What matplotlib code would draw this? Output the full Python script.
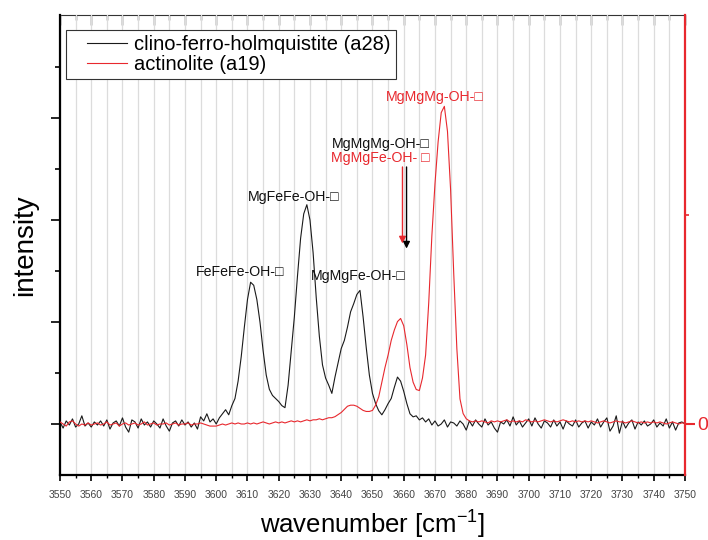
import matplotlib
matplotlib.use('Agg')
import matplotlib.pyplot as plt
import numpy as np
from matplotlib.ticker import MultipleLocator, FixedLocator
from matplotlib.legend_handler import HandlerLine2D

plt.rcParams['font.family'] = ['Liberation Sans', 'DejaVu Sans']

# wavenumber grid, 1 cm^-1 steps
wavenumber = np.arange(3550, 3751)

# clino-ferro-holmquistite (a28), left axis
holmquistite = [
    0.02, -0.04, 0.03, -0.01, 0.05, -0.03, 0.0, 0.08, -0.02, 0.01,
    -0.03, 0.02, -0.01, 0.03, -0.02, 0.04, -0.05, 0.01, 0.03, -0.02,
    0.06, -0.03, -0.08, 0.04, 0.02, -0.04, 0.05, -0.01, 0.02, -0.03,
    0.03, 0.0, -0.04, 0.05, -0.02, -0.07, 0.01, 0.03, -0.02, 0.04,
    -0.01, 0.02, -0.03, 0.01, -0.05, 0.07, 0.03, 0.1, 0.02, 0.05,
    0.0, 0.06, 0.1, 0.14, 0.09, 0.18, 0.25, 0.42, 0.66, 0.95,
    1.22, 1.39, 1.36, 1.22, 1.0, 0.72, 0.48, 0.34, 0.28, 0.25,
    0.22, 0.18, 0.16, 0.38, 0.72, 1.05, 1.45, 1.82, 2.06, 2.15,
    2.0, 1.68, 1.24, 0.86, 0.58, 0.45, 0.38, 0.3, 0.46, 0.6,
    0.74, 0.82, 0.95, 1.1, 1.18, 1.27, 1.31, 1.05, 0.75, 0.48,
    0.3, 0.2, 0.13, 0.09, 0.14, 0.2, 0.25, 0.36, 0.46, 0.42,
    0.32, 0.2, 0.1, 0.07, 0.08, 0.04, 0.06, 0.02, 0.05, -0.01,
    0.03, -0.02, 0.0, 0.04, -0.03, 0.02, 0.01, -0.02, 0.03, 0.0,
    -0.06, 0.03, -0.02, 0.04, 0.0, -0.03, 0.05, -0.01, 0.02, -0.04,
    -0.08, 0.02, 0.0, 0.04, -0.02, 0.07, -0.01, 0.03, -0.03, 0.01,
    0.05, -0.02, 0.06, 0.0, -0.04, 0.03, 0.01, -0.03, 0.04, -0.02,
    0.02, -0.05, 0.03, 0.0, -0.02, 0.04, -0.03, 0.01, 0.03, -0.04,
    0.02, -0.01, 0.05, -0.03, 0.02, 0.06, -0.07, -0.02, 0.08, -0.09,
    0.03, -0.04, 0.01, 0.04, -0.05, 0.02, -0.01, 0.03, -0.02, 0.0,
    0.04, -0.03, 0.01, -0.02, 0.05, -0.04, 0.02, -0.06, 0.01, 0.02,
    0.0,
]

# actinolite (a19), right axis
actinolite = [
    0.01, 0.0, -0.01, 0.01, 0.015, 0.0, -0.01, 0.0, -0.005, 0.005,
    -0.005, 0.0, 0.005, -0.005, 0.0, 0.01, -0.005, 0.0, 0.005, -0.01,
    0.0, 0.005, -0.005, 0.0, 0.005, -0.005, 0.0, 0.01, -0.005, 0.0,
    0.005, -0.005, 0.0, 0.0, 0.005, -0.005, 0.0, 0.005, -0.005, 0.0,
    0.0, 0.005, -0.005, 0.0, 0.0, 0.005, 0.0, -0.005, -0.01, -0.01,
    -0.01, -0.005, 0.0, -0.005, 0.0, 0.005, 0.0, 0.005, 0.0, 0.0,
    0.005, 0.0, 0.005, 0.0, 0.005, 0.01, 0.005, 0.0, 0.005, 0.01,
    0.005, 0.01, 0.005, 0.01, 0.015, 0.01, 0.015, 0.01, 0.015, 0.02,
    0.015, 0.02, 0.02, 0.025, 0.02, 0.025, 0.03, 0.03, 0.035, 0.045,
    0.055, 0.07, 0.085, 0.09, 0.09, 0.085, 0.075, 0.065, 0.06, 0.06,
    0.065, 0.09, 0.13, 0.2, 0.27, 0.33, 0.4, 0.45, 0.49, 0.505,
    0.47, 0.38, 0.27, 0.2, 0.165, 0.16, 0.22, 0.33, 0.58, 0.9,
    1.15, 1.35, 1.49, 1.52, 1.4, 1.12, 0.72, 0.36, 0.12, 0.05,
    0.025, 0.015, 0.01, 0.015, 0.01, 0.015, 0.01, 0.005, 0.015, 0.01,
    0.015, 0.01, 0.015, 0.02, 0.01, 0.015, 0.01, 0.015, 0.01, 0.02,
    0.015, 0.01, 0.015, 0.01, 0.015, 0.02, 0.015, 0.01, 0.015, 0.01,
    0.015, 0.02, 0.015, 0.01, 0.015, 0.01, 0.015, 0.01, 0.015, 0.01,
    0.015, 0.01, 0.005, 0.01, 0.015, 0.01, 0.005, 0.01, 0.015, 0.01,
    0.01, 0.005, 0.01, 0.015, 0.01, 0.005, 0.01, 0.005, 0.01, 0.005,
    0.01, 0.005, 0.01, 0.005, 0.0, 0.005, 0.01, 0.005, 0.0, 0.005,
    0.005,
]

# band assignments: (text, x, y, colour)
labels = [
    ('FeFeFe-OH-\u25a1', 3607.6, 1.49, 'black'),
    ('MgFeFe-OH-\u25a1', 3624.9, 2.23, 'black'),
    ('MgMgFe-OH-\u25a1', 3645.4, 1.45, 'black'),
    ('MgMgMg-OH-\u25a1', 3652.7, 2.75, 'black'),
    ('MgMgFe-OH- \u25a1', 3652.4, 2.61, 'red'),
    ('MgMgMg-OH-\u25a1', 3670.0, 3.21, 'red'),
]

RED = '#e8282e'


# legend line that leaves some room on its left, Origin style
class ShortLine(HandlerLine2D):
    def get_xdata(self, legend, xdescent, ydescent, width, height, fontsize):
        xdata, xmark = super().get_xdata(legend, xdescent, ydescent,
                                         width, height, fontsize)
        return np.array([-xdescent + 0.28 * width, -xdescent + width]), xmark


fig = plt.figure(figsize=(7.08, 5.40), dpi=100)
ax = fig.add_axes([0.0847, 0.1204, 0.8828, 0.8518])
ax2 = ax.twinx()

l1, = ax.plot(wavenumber, holmquistite, color='#1a1a1a', lw=0.8,
              label='clino-ferro-holmquistite (a28)')
l2, = ax2.plot(wavenumber, actinolite, color=RED, lw=0.8,
               label='actinolite (a19)')

ax.set_xlim(3550, 3750)
ax.set_ylim(-0.5, 4.01)
ax2.set_ylim(-0.244, 1.957)

# x axis: labelled every 10, minor every 5, grid on both
ax.xaxis.set_major_locator(MultipleLocator(10))
ax.xaxis.set_minor_locator(MultipleLocator(5))
ax.grid(True, axis='x', which='both', color='#dcdcdc', lw=0.9)
ax.set_axisbelow(True)
ax.tick_params(axis='x', which='major', direction='out', length=4,
               width=1.2, labelsize=7.5, labelcolor='#444444', pad=7)
ax.tick_params(axis='x', which='minor', direction='out', length=2.5, width=1.0)

top = ax.secondary_xaxis('top')
top.xaxis.set_major_locator(MultipleLocator(10))
top.xaxis.set_minor_locator(MultipleLocator(5))
top.tick_params(axis='x', which='major', direction='in', length=7,
                width=1.0, labeltop=False, color='#333333')
top.tick_params(axis='x', which='minor', direction='in', length=3.5,
                width=1.0, color='#333333')
top.spines['top'].set_color('#333333')

# left axis: ticks only, no numbers
ax.yaxis.set_major_locator(FixedLocator([0, 1, 2, 3]))
ax.yaxis.set_minor_locator(FixedLocator([0.5, 1.5, 2.5, 3.5]))
ax.tick_params(axis='y', which='major', direction='out', length=6.5,
               width=1.2, labelleft=False)
ax.tick_params(axis='y', which='minor', direction='out', length=3.5,
               width=1.2)

# right axis in red
ax2.yaxis.set_major_locator(FixedLocator([0]))
ax2.yaxis.set_minor_locator(FixedLocator([1.0]))
ax2.tick_params(axis='y', which='major', direction='out', length=7,
                width=1.5, colors=RED, labelsize=14, pad=2)
ax2.tick_params(axis='y', which='minor', direction='out', length=3,
                width=1.2, colors=RED)

for s in ('left', 'top', 'bottom'):
    ax2.spines[s].set_visible(False)
ax2.spines['right'].set_color(RED)
ax2.spines['right'].set_linewidth(1.6)
ax.spines['right'].set_visible(False)
ax.spines['top'].set_visible(False)
ax.spines['left'].set_linewidth(1.6)
ax.spines['bottom'].set_linewidth(1.6)

ax.set_xlabel('wavenumber [cm$\\mathregular{^{-1}}$]', fontsize=18.5,
              labelpad=6)
ax.set_ylabel('intensity', fontsize=20, labelpad=9)

for txt, x, y, c in labels:
    ax.text(x, y, txt, ha='center', va='center', fontsize=10.2,
            color=RED if c == 'red' else '#111111')

# arrows pointing at the 3660 band
ax.annotate('', xy=(3659.6, 1.77), xytext=(3659.6, 2.52),
            arrowprops=dict(arrowstyle='-|>', color=RED, lw=1,
                            mutation_scale=10, shrinkA=0, shrinkB=0))
ax.annotate('', xy=(3660.9, 1.72), xytext=(3660.9, 2.52),
            arrowprops=dict(arrowstyle='-|>', color='black', lw=1,
                            mutation_scale=10, shrinkA=0, shrinkB=0))

leg = ax2.legend(handles=[l1, l2], loc='upper left',
                 bbox_to_anchor=(66 / 708, 1 - 30 / 540),
                 bbox_transform=fig.transFigure, borderaxespad=0,
                 fontsize=14.5, frameon=True, fancybox=False,
                 edgecolor='#333333', handlelength=2.8, handletextpad=0.35,
                 borderpad=0.25, labelspacing=0.05, framealpha=1,
                 handler_map={l1: ShortLine(), l2: ShortLine()})
leg.get_frame().set_linewidth(0.8)

fig.savefig('out.png', dpi=100)
